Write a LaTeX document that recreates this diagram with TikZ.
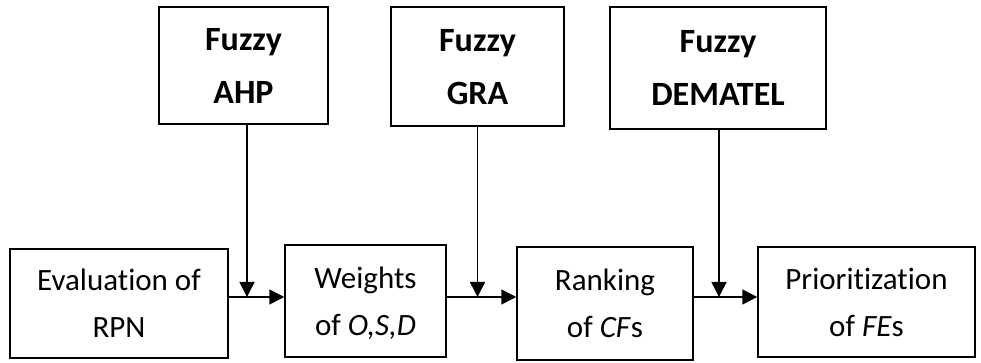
\documentclass[tikz,border=0pt]{standalone}
\usepackage{fontspec}
\setmainfont{Carlito}[Ligatures=NoCommon]
\usepackage{tikz}
\usetikzlibrary{arrows.meta}
\usetikzlibrary{positioning}
\tikzset{stagebox/.style={draw, line width=1.5pt, align=center, inner sep=0pt, text depth=-10pt,
					font=\fontsize{31}{47}\selectfont},
			methodbox/.style={stagebox, text depth=-14pt, font=\bfseries\fontsize{34}{53}\selectfont},
			flow/.style={line width=1.5pt, -{Triangle[length=15pt,width=15pt]}}}

\begin{document}
\begin{tikzpicture}[x=1pt, y=1pt]
				
					\useasboundingbox (0,0) rectangle (981,363);
					
					% fuzzy methods on top
					\node(ahp)[methodbox, minimum width=169pt, minimum height=117pt] at (243.5,297.5) {Fuzzy\\AHP};
					\node(gra)[methodbox, minimum width=173pt, minimum height=119pt] at (477.5,296.5) {Fuzzy\\GRA};
					\node(dematel)[methodbox, minimum width=216pt, minimum height=122pt] at (718,295) {Fuzzy\\DEMATEL};
					
					% stages at the bottom
					\node(rpn)[stagebox, minimum width=218pt, minimum height=109pt] at (119,59.5) {Evaluation of\\RPN};
					\node(weights)[stagebox, minimum width=161pt, minimum height=112pt] at (365.5,62) {Weights\\of \textit{O,S,D}};
					\node(ranking)[stagebox, minimum width=176pt, minimum height=113pt] at (605,59.5) {Ranking\\of \textit{CF}s};
					\node(prior)[stagebox, minimum width=217pt, minimum height=110pt] at (866.5,61) {Prioritization\\of \textit{FE}s};
					
					\coordinate(lane) at (0,66);
					
					\draw[flow] (rpn.east |- lane) -- (weights.west |- lane);
					\draw[flow] (weights.east |- lane) -- (ranking.west |- lane);
					\draw[flow] (ranking.east |- lane) -- (prior.west |- lane);
					
					\draw[flow] ([xshift=3.5pt]ahp.south) -- ([xshift=3.5pt]ahp.south |- lane);
					\draw[flow] (gra.south) -- (gra.south |- lane);
					\draw[flow] ([xshift=1pt]dematel.south) -- ([xshift=1pt]dematel.south |- lane);
					
					%\draw[flow] (prior.east) -- ++(20,0);
								
				\end{tikzpicture}
\end{document}
